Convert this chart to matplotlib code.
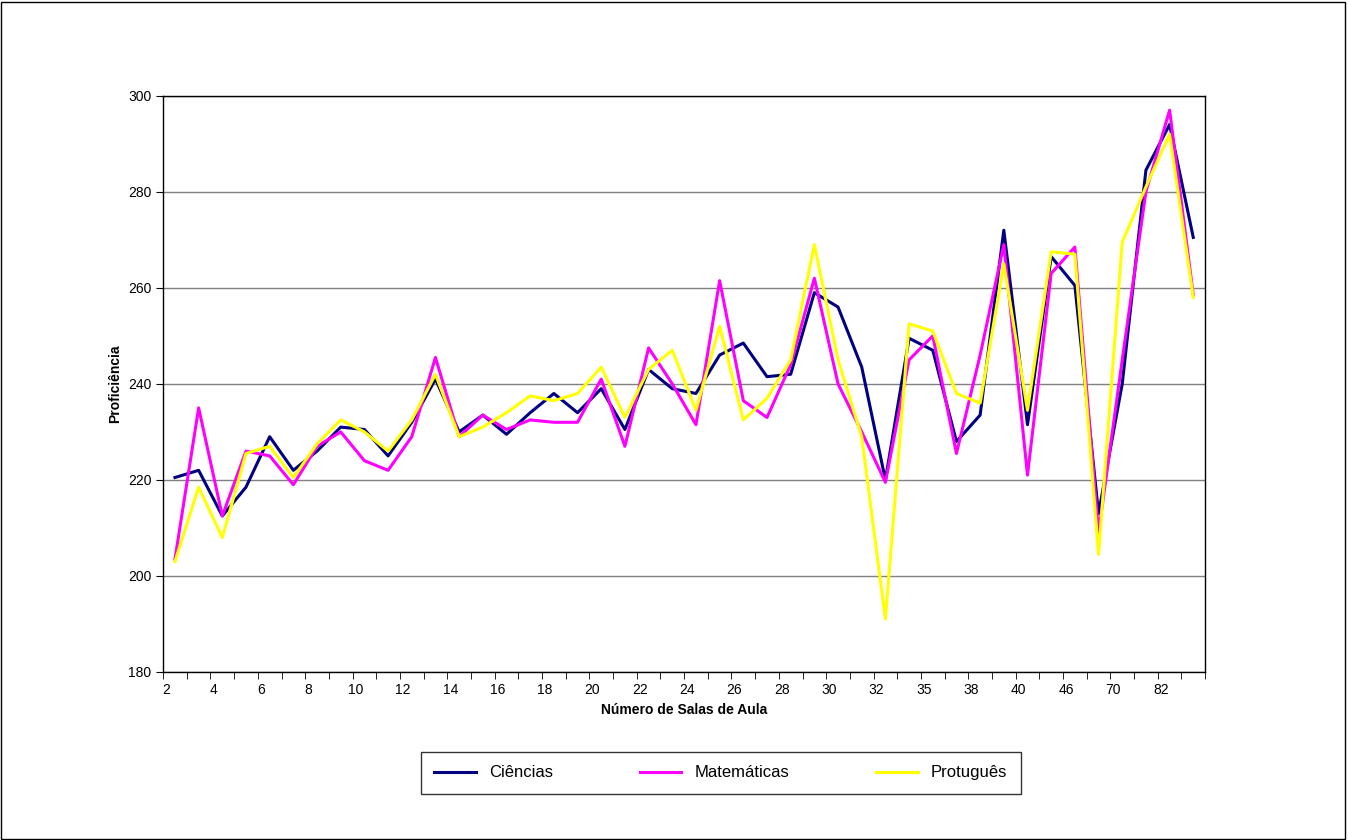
import numpy as np
import matplotlib.pyplot as plt
from matplotlib.patches import Rectangle

plt.rcParams['font.family'] = ['Liberation Sans', 'DejaVu Sans']

tick_labels = ["2", "4", "6", "8", "10", "12", "14", "16", "18", "20", "22", "24",
               "26", "28", "30", "32", "35", "38", "40", "46", "70", "82"]

ciencias = [220.5, 222, 212.5, 218.5, 229, 222, 226, 231, 230.5, 225, 232, 241,
            230, 233.5, 229.5, 234, 238, 234, 239, 230.5, 243, 239, 238, 246,
            248.5, 241.5, 242, 259, 256, 243.5, 220, 249.5, 247, 228, 233.5, 272,
            231.5, 266.5, 260.5, 213, 240, 284.5, 294, 270.5]
matematicas = [203.5, 235, 212.5, 226, 225, 219, 227, 230, 224, 222, 229, 245.5,
               229, 233.5, 230.5, 232.5, 232, 232, 241, 227, 247.5, 240, 231.5, 261.5,
               236.5, 233, 244, 262, 240, 230, 219.5, 245, 250, 225.5, 246, 269,
               221, 263, 268.5, 209, 245, 280, 297, 258.5]
portugues = [203, 218.5, 208, 225.5, 227, 220.5, 227.5, 232.5, 230, 226, 232.5, 242,
             229, 231, 234, 237.5, 236.5, 238, 243.5, 233, 243, 247, 234.5, 252,
             232.5, 237, 245, 269, 245, 229, 191, 252.5, 251, 238, 236, 265,
             234.5, 267.5, 267, 204.5, 269.5, 281, 292, 258]

fig = plt.figure(figsize=(13.48, 8.4), dpi=100)
fig.patches.append(Rectangle((0.001, 0.001), 0.997, 0.997, transform=fig.transFigure,
                             fill=False, edgecolor='black', linewidth=1))
ax = fig.add_axes([0.121, 0.2, 0.773, 0.686])

x = np.arange(len(ciencias))
ax.plot(x, ciencias, color='#000080', lw=2.2, label='Ciências')
ax.plot(x, matematicas, color='#FF00FF', lw=2.2, label='Matemáticas')
ax.plot(x, portugues, color='#FFFF00', lw=2.2, label='Protuguês')

ax.set_xlim(-0.5, len(x) - 0.5)
ax.set_ylim(180, 300)
ax.set_yticks(range(180, 301, 20))
ax.set_xticks(np.arange(len(x) + 1) - 0.5, minor=True)
ax.set_xticks(np.arange(0, len(x), 2) - 0.37)
ax.set_xticklabels(tick_labels)
ax.tick_params(axis='x', which='major', length=0, labelsize=10, pad=8)
ax.tick_params(axis='x', which='minor', length=5)
ax.tick_params(axis='y', labelsize=10, length=5)
ax.grid(axis='y', color='#808080', lw=1)
ax.set_axisbelow(True)
for s in ax.spines.values():
    s.set_linewidth(1)

ax.set_xlabel('Número de Salas de Aula', fontsize=10, fontweight='bold')
ax.set_ylabel('Proficiência', fontsize=10, fontweight='bold')

leg = ax.legend(loc='center', bbox_to_anchor=(0.535, -0.175), ncol=3, fontsize=12,
                frameon=True, fancybox=False, edgecolor='black', handlelength=2.5,
                columnspacing=5.2, borderpad=0.8)
leg.get_frame().set_linewidth(1)

fig.savefig('out.png', dpi=100)
